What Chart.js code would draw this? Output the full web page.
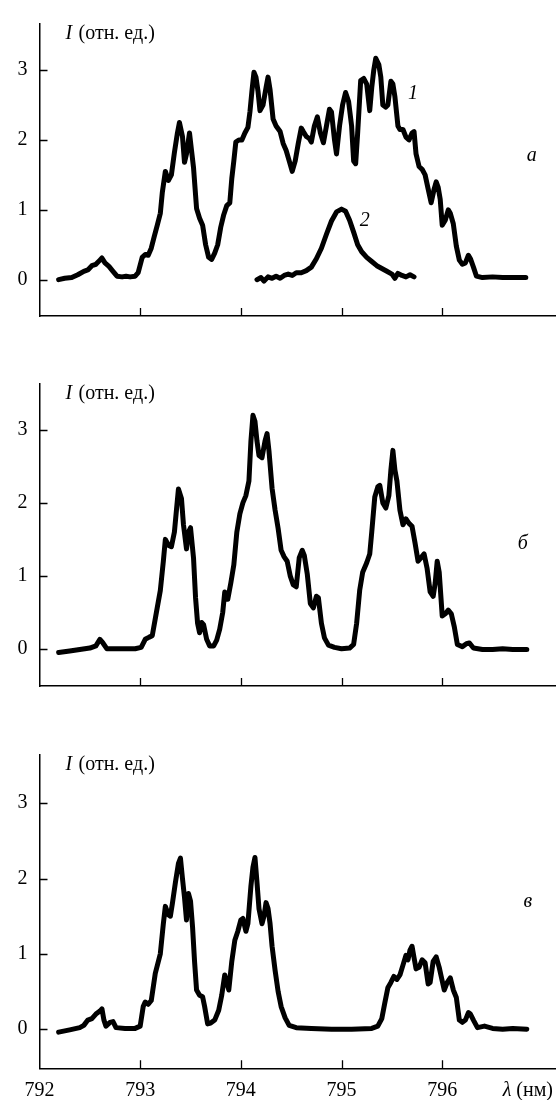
<!DOCTYPE html>
<html>
<head>
<meta charset="utf-8">
<script src="https://cdn.jsdelivr.net/npm/chart.js@4.4.1/dist/chart.umd.min.js"></script>
<style>
  html, body { margin: 0; padding: 0; background: #fff; }
  #wrap { position: relative; width: 556px; height: 1100px; }
  canvas { position: absolute; left: 0; }
</style>
</head>
<body>
<div id="wrap">
  <canvas id="pa" width="556" height="340" style="top:0px"></canvas>
  <canvas id="pb" width="556" height="350" style="top:360px"></canvas>
  <canvas id="pv" width="556" height="380" style="top:720px"></canvas>
</div>
<script>
// wavelength (nm) -> intensity (arb. units)
const xTicks = [792, 793, 794, 795, 796];
const yTicks = [0, 1, 2, 3];

// panel a, curve 1
const specA1 = [
  [792.19,0.0],[792.25,0.02],[792.32,0.03],[792.38,0.07],[792.44,0.12],[792.48,0.14],[792.52,0.2],[792.56,0.22],
  [792.6,0.28],[792.62,0.31],[792.65,0.24],[792.69,0.19],[792.73,0.12],[792.77,0.05],[792.82,0.04],[792.86,0.05],
  [792.9,0.04],[792.95,0.05],[792.98,0.1],[793.02,0.32],[793.05,0.36],[793.08,0.35],[793.11,0.45],[793.14,0.62],
  [793.17,0.78],[793.2,0.95],[793.22,1.25],[793.25,1.55],[793.28,1.42],[793.31,1.5],[793.34,1.82],[793.37,2.1],
  [793.39,2.25],[793.42,2.05],[793.44,1.68],[793.46,1.8],[793.49,2.1],[793.51,1.85],[793.53,1.6],[793.56,1.02],
  [793.59,0.88],[793.62,0.78],[793.65,0.5],[793.68,0.32],[793.71,0.29],[793.74,0.38],[793.77,0.5],[793.8,0.75],
  [793.83,0.93],[793.86,1.06],[793.89,1.1],[793.91,1.45],[793.93,1.7],[793.95,1.97],[793.98,2.0],[794.01,2.0],
  [794.04,2.1],[794.07,2.18],[794.09,2.4],[794.11,2.7],[794.13,2.97],[794.15,2.9],[794.17,2.7],[794.19,2.42],
  [794.22,2.5],[794.25,2.75],[794.27,2.9],[794.29,2.72],[794.32,2.3],[794.35,2.2],[794.39,2.12],[794.42,1.95],
  [794.45,1.85],[794.48,1.7],[794.51,1.55],[794.54,1.7],[794.57,1.95],[794.6,2.17],[794.62,2.12],[794.65,2.05],
  [794.68,2.02],[794.7,1.97],[794.73,2.2],[794.76,2.33],[794.79,2.1],[794.82,1.96],[794.85,2.2],[794.88,2.44],
  [794.9,2.4],[794.93,2.0],[794.95,1.8],[794.98,2.2],[795.01,2.5],[795.04,2.68],[795.07,2.55],[795.1,2.2],
  [795.12,1.7],[795.14,1.66],[795.16,2.1],[795.19,2.85],[795.22,2.88],[795.25,2.8],[795.28,2.42],[795.3,2.75],
  [795.32,3.0],[795.34,3.17],[795.37,3.08],[795.39,2.9],[795.41,2.5],[795.44,2.47],[795.46,2.5],[795.49,2.84],
  [795.51,2.8],[795.53,2.62],[795.56,2.2],[795.58,2.15],[795.61,2.15],[795.64,2.04],[795.67,2.0],[795.7,2.1],
  [795.72,2.12],[795.74,1.8],[795.77,1.62],[795.8,1.58],[795.83,1.5],[795.86,1.3],[795.89,1.1],[795.92,1.3],
  [795.94,1.4],[795.96,1.32],[795.98,1.15],[796.0,0.78],[796.03,0.85],[796.06,1.0],[796.08,0.95],[796.11,0.8],
  [796.14,0.48],[796.17,0.28],[796.2,0.22],[796.23,0.24],[796.26,0.35],[796.28,0.3],[796.31,0.18],[796.34,0.05],
  [796.4,0.03],[796.5,0.04],[796.6,0.03],[796.7,0.03],[796.83,0.03]
];

// panel a, curve 2
const specA2 = [
  [794.16,0.0],[794.2,0.03],[794.23,-0.02],[794.27,0.04],[794.31,0.02],[794.35,0.05],[794.39,0.02],[794.43,0.06],
  [794.47,0.08],[794.51,0.06],[794.55,0.1],[794.6,0.1],[794.65,0.13],[794.7,0.18],[794.75,0.3],[794.8,0.45],
  [794.85,0.65],[794.9,0.84],[794.95,0.97],[795.0,1.01],[795.04,0.98],[795.08,0.85],[795.12,0.68],[795.16,0.5],
  [795.2,0.4],[795.25,0.32],[795.3,0.26],[795.35,0.2],[795.4,0.16],[795.45,0.12],[795.5,0.08],[795.53,0.02],
  [795.56,0.09],[795.6,0.06],[795.64,0.04],[795.68,0.07],[795.72,0.04]
];

// panel б
const specB = [
  [792.19,-0.05],[792.3,-0.03],[792.4,-0.01],[792.5,0.01],[792.56,0.04],[792.6,0.13],[792.63,0.08],[792.67,0.0],
  [792.8,0.0],[792.95,0.0],[793.01,0.02],[793.05,0.13],[793.09,0.16],[793.12,0.18],[793.16,0.49],[793.2,0.8],
  [793.23,1.2],[793.25,1.5],[793.28,1.42],[793.31,1.4],[793.34,1.6],[793.36,1.9],[793.38,2.19],[793.41,2.06],
  [793.43,1.7],[793.46,1.37],[793.48,1.6],[793.5,1.66],[793.53,1.24],[793.55,0.7],[793.57,0.35],[793.59,0.22],
  [793.61,0.36],[793.63,0.33],[793.66,0.13],[793.69,0.04],[793.73,0.04],[793.76,0.12],[793.79,0.27],[793.82,0.5],
  [793.84,0.78],[793.87,0.68],[793.9,0.9],[793.93,1.15],[793.96,1.6],[793.99,1.85],[794.02,2.0],[794.05,2.1],
  [794.08,2.3],[794.1,2.85],[794.12,3.2],[794.14,3.12],[794.16,2.85],[794.18,2.65],[794.21,2.62],[794.24,2.85],
  [794.26,2.95],[794.28,2.7],[794.31,2.2],[794.34,1.9],[794.37,1.65],[794.4,1.35],[794.43,1.26],[794.46,1.2],
  [794.49,1.0],[794.52,0.88],[794.55,0.85],[794.58,1.25],[794.61,1.35],[794.63,1.28],[794.66,1.02],[794.69,0.62],
  [794.72,0.56],[794.75,0.72],[794.77,0.7],[794.8,0.35],[794.83,0.15],[794.87,0.05],[794.93,0.02],[795.0,0.0],
  [795.08,0.01],[795.12,0.06],[795.15,0.35],[795.18,0.8],[795.21,1.05],[795.25,1.18],[795.28,1.3],[795.3,1.6],
  [795.33,2.08],[795.36,2.22],[795.38,2.24],[795.41,2.0],[795.44,1.93],[795.47,2.1],[795.49,2.45],[795.51,2.72],
  [795.53,2.45],[795.55,2.3],[795.58,1.9],[795.61,1.7],[795.64,1.78],[795.67,1.72],[795.7,1.68],[795.73,1.45],
  [795.76,1.2],[795.79,1.25],[795.82,1.3],[795.85,1.1],[795.88,0.78],[795.91,0.72],[795.93,0.9],[795.95,1.2],
  [795.97,1.05],[796.0,0.45],[796.03,0.48],[796.06,0.53],[796.09,0.48],[796.12,0.3],[796.15,0.06],[796.2,0.03],
  [796.24,0.07],[796.27,0.08],[796.31,0.01],[796.4,-0.01],[796.5,-0.01],[796.6,0.0],[796.7,-0.01],[796.84,-0.01]
];

// panel в
const specV = [
  [792.19,-0.04],[792.3,-0.01],[792.4,0.02],[792.44,0.05],[792.48,0.12],[792.52,0.14],[792.56,0.2],[792.6,0.24],
  [792.62,0.27],[792.64,0.12],[792.66,0.04],[792.7,0.09],[792.73,0.1],[792.76,0.02],[792.85,0.01],[792.95,0.01],
  [793.0,0.04],[793.03,0.3],[793.05,0.36],[793.08,0.33],[793.11,0.38],[793.15,0.74],[793.2,1.0],[793.23,1.4],
  [793.25,1.63],[793.28,1.52],[793.3,1.5],[793.32,1.67],[793.35,1.95],[793.38,2.2],[793.4,2.27],[793.42,2.0],
  [793.44,1.75],[793.46,1.45],[793.48,1.8],[793.5,1.7],[793.52,1.36],[793.54,0.9],[793.56,0.52],[793.59,0.45],
  [793.62,0.43],[793.64,0.3],[793.67,0.07],[793.7,0.08],[793.74,0.12],[793.78,0.25],[793.81,0.45],[793.84,0.72],
  [793.86,0.62],[793.88,0.52],[793.91,0.9],[793.94,1.18],[793.97,1.3],[794.0,1.45],[794.02,1.47],[794.05,1.3],
  [794.07,1.4],[794.1,1.9],[794.12,2.15],[794.14,2.28],[794.16,1.95],[794.18,1.6],[794.21,1.4],[794.23,1.5],
  [794.25,1.68],[794.27,1.6],[794.29,1.4],[794.31,1.1],[794.34,0.78],[794.37,0.5],[794.4,0.3],[794.44,0.15],
  [794.48,0.05],[794.55,0.02],[794.7,0.01],[794.9,0.0],[795.1,0.0],[795.3,0.01],[795.36,0.04],[795.4,0.14],
  [795.43,0.35],[795.46,0.55],[795.49,0.62],[795.52,0.7],[795.55,0.66],[795.58,0.72],[795.61,0.85],[795.64,0.98],
  [795.66,0.92],[795.68,1.05],[795.7,1.1],[795.72,0.95],[795.74,0.8],[795.77,0.82],[795.8,0.92],[795.83,0.88],
  [795.86,0.6],[795.88,0.62],[795.91,0.9],[795.94,0.96],[795.97,0.82],[795.99,0.7],[796.02,0.52],[796.05,0.62],
  [796.08,0.68],[796.11,0.52],[796.14,0.42],[796.17,0.12],[796.2,0.09],[796.23,0.12],[796.26,0.22],[796.28,0.2],
  [796.31,0.12],[796.35,0.02],[796.42,0.04],[796.5,0.01],[796.6,0.0],[796.7,0.01],[796.84,0.0]
];

const FONT = '"Liberation Serif", "Times New Roman", serif';
const FSIZE = 20;
const xMax = 797.13;

// draws inward tick marks, the axis title and the italic labels
const notes = {
  id: 'notes',
  afterDraw(chart, args, opts) {
    const { ctx, chartArea: a, scales: { x, y } } = chart;
    ctx.save();
    ctx.strokeStyle = '#000';
    ctx.lineWidth = 1.3;
    ctx.beginPath();
    yTicks.forEach(v => {
      const py = Math.round(y.getPixelForValue(v)) + 0.5;
      ctx.moveTo(a.left, py);
      ctx.lineTo(a.left + 8, py);
    });
    xTicks.slice(1).forEach(v => {
      const px = Math.round(x.getPixelForValue(v)) + 0.5;
      ctx.moveTo(px, a.bottom);
      ctx.lineTo(px, a.bottom - 8);
    });
    ctx.stroke();

    ctx.fillStyle = '#000';
    ctx.textBaseline = 'middle';
    ctx.textAlign = 'left';
    const tx = a.left + 26, ty = a.top + 10;
    ctx.font = `italic ${FSIZE}px ${FONT}`;
    ctx.fillText('I', tx, ty);
    ctx.font = `${FSIZE}px ${FONT}`;
    ctx.fillText('(отн. ед.)', tx + 13, ty);

    ctx.font = `italic ${FSIZE}px ${FONT}`;
    ctx.textAlign = 'center';
    (opts.labels || []).forEach(l => {
      ctx.fillText(l.text, x.getPixelForValue(l.x), y.getPixelForValue(l.y));
    });

    if (opts.xTitle) {
      ctx.textAlign = 'right';
      const by = a.bottom + 22;
      ctx.font = `${FSIZE}px ${FONT}`;
      const w = ctx.measureText(' (нм)').width;
      ctx.fillText(' (нм)', 553, by);
      ctx.font = `italic ${FSIZE}px ${FONT}`;
      ctx.fillText('λ', 553 - w, by);
    }
    ctx.restore();
  }
};

function panel(id, series, o) {
  const ctx = document.getElementById(id).getContext('2d');
  return new Chart(ctx, {
    type: 'line',
    data: {
      datasets: series.map(s => ({
        data: s.map(p => ({ x: p[0], y: p[1] })),
        borderColor: '#000',
        borderWidth: 5,
        borderJoinStyle: 'round',
        borderCapStyle: 'round',
        pointRadius: 0,
        tension: 0
      }))
    },
    options: {
      responsive: false,
      animation: false,
      events: [],
      layout: { padding: { top: o.top, left: 0, right: 0, bottom: 0 } },
      plugins: {
        legend: { display: false },
        tooltip: { enabled: false },
        notes: { labels: o.labels, xTitle: o.xTitle }
      },
      scales: {
        x: {
          type: 'linear',
          min: 792,
          max: xMax,
          grid: { display: false, drawTicks: false },
          border: { color: '#000', width: 1.5 },
          ticks: { display: o.xTitle, color: '#000', font: { family: FONT, size: FSIZE }, padding: 10, maxRotation: 0, autoSkip: false },
          afterBuildTicks: s => { s.ticks = xTicks.map(v => ({ value: v })); },
          afterFit: s => { s.height = o.xh; }
        },
        y: {
          min: o.ymin,
          max: o.ymax,
          grid: { display: false, drawTicks: false },
          border: { color: '#000', width: 1.5 },
          ticks: { color: '#000', font: { family: FONT, size: FSIZE }, padding: 12 },
          afterBuildTicks: s => { s.ticks = yTicks.map(v => ({ value: v })); },
          afterFit: s => { s.width = 39.5; }
        }
      }
    },
    plugins: [notes]
  });
}

panel('pa', [specA1, specA2], {
  top: 8, xh: 18, ymin: -0.52, ymax: 3.66, xTitle: false,
  labels: [{ text: '1', x: 795.71, y: 2.66 }, { text: '2', x: 795.23, y: 0.84 }, { text: 'а', x: 796.89, y: 1.77 }]
});
panel('pb', [specB], {
  top: 20, xh: 18.3, ymin: -0.51, ymax: 3.63, xTitle: false,
  labels: [{ text: 'б', x: 796.8, y: 1.44 }]
});
panel('pv', [specV], {
  top: 35, xh: 31.7, ymin: -0.52, ymax: 3.64, xTitle: true,
  labels: [{ text: 'в', x: 796.85, y: 1.69 }]
});
</script>
</body>
</html>
